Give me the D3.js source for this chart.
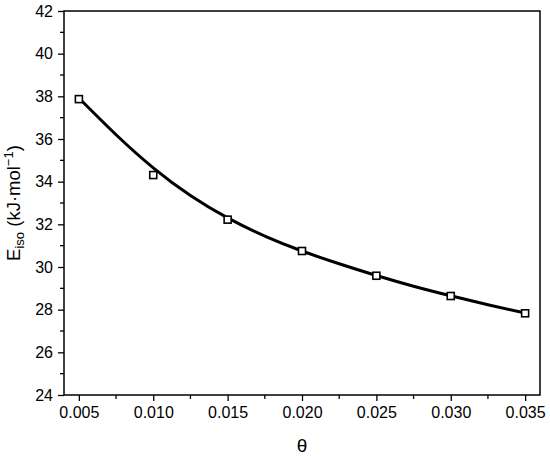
<!DOCTYPE html>
<html><head><meta charset="utf-8">
<script src="https://cdn.jsdelivr.net/npm/d3@7"></script>
<style>body{margin:0;background:#fff}svg{display:block}text{font-family:"Liberation Sans",Arial,sans-serif;fill:#000}</style>
</head><body><svg id="c" width="550" height="457"></svg>
<script>
const theta = [0.005, 0.010, 0.015, 0.020, 0.025, 0.030, 0.035];
const eiso = [37.87, 34.31, 32.22, 30.75, 29.59, 28.64, 27.83];
const fitTheta = [0.005, 0.0075, 0.010, 0.0125, 0.015, 0.0175, 0.020, 0.0225, 0.025, 0.0275, 0.030, 0.0325, 0.035];
const fitE = [37.92, 36.20, 34.65, 33.35, 32.30, 31.45, 30.75, 30.15, 29.60, 29.10, 28.65, 28.23, 27.84];
const xTicks = [0.005, 0.010, 0.015, 0.020, 0.025, 0.030, 0.035];
const yTicks = [24, 26, 28, 30, 32, 34, 36, 38, 40, 42];

const L = 64, R = 540, T = 11, B = 395;
const svg = d3.select("#c");
const x = d3.scaleLinear().domain([0.004, 0.036]).range([L, R]);
const y = d3.scaleLinear().domain([24, 42]).range([B, T]);

const xMinor = d3.range(0.0025, 0.0360, 0.0025).filter(v => v > 0.004 && !xTicks.some(t => Math.abs(t - v) < 1e-6));
const yMinor = d3.range(25, 42, 2);

const gx = svg.append("g").attr("transform", `translate(0,${B})`);
gx.call(d3.axisBottom(x).tickValues(xTicks).tickFormat(d3.format(".3f")).tickSize(6).tickPadding(6));
gx.selectAll(".mtick").data(xMinor).enter().append("line")
  .attr("x1", d => x(d)).attr("x2", d => x(d)).attr("y1", 0).attr("y2", 4).attr("stroke", "#000").attr("stroke-width", 1.3);
const gy = svg.append("g").attr("transform", `translate(${L},0)`);
gy.call(d3.axisLeft(y).tickValues(yTicks).tickSize(6).tickPadding(5));
gy.selectAll(".mtick").data(yMinor).enter().append("line")
  .attr("x1", 0).attr("x2", -4).attr("y1", d => y(d)).attr("y2", d => y(d)).attr("stroke", "#000").attr("stroke-width", 1.3);

svg.selectAll(".domain").remove();
svg.selectAll(".tick line").attr("stroke-width", 1.3);
svg.selectAll(".tick text").attr("font-size", 16).attr("font-family", '"Liberation Sans",Arial,sans-serif');

svg.append("rect").attr("x", L).attr("y", T).attr("width", R - L).attr("height", B - T)
  .attr("fill", "none").attr("stroke", "#000").attr("stroke-width", 1.5);

svg.append("path").datum(fitTheta.map((t, i) => [t, fitE[i]]))
  .attr("d", d3.line().x(d => x(d[0])).y(d => y(d[1])).curve(d3.curveNatural))
  .attr("fill", "none").attr("stroke", "#000").attr("stroke-width", 3);

svg.selectAll(".pt").data(theta.map((t, i) => [t, eiso[i]])).enter().append("rect")
  .attr("x", d => x(d[0]) - 3.5).attr("y", d => y(d[1]) - 3.5).attr("width", 7).attr("height", 7)
  .attr("fill", "#fff").attr("stroke", "#000").attr("stroke-width", 1.6);

svg.append("text").attr("x", (L + R) / 2).attr("y", 452).attr("text-anchor", "middle").attr("font-size", 19).text("θ");
const yt = svg.append("text").attr("transform", `translate(20,${(T + B) / 2}) rotate(-90)`)
  .attr("text-anchor", "middle").attr("font-size", 18.5);
yt.append("tspan").text("E");
yt.append("tspan").attr("font-size", 13).attr("dy", 4).text("iso");
yt.append("tspan").attr("dy", -4).text(" (kJ·mol");
yt.append("tspan").attr("font-size", 13).attr("dy", -7).text("−1");
yt.append("tspan").attr("dy", 7).text(")");
</script></body></html>
